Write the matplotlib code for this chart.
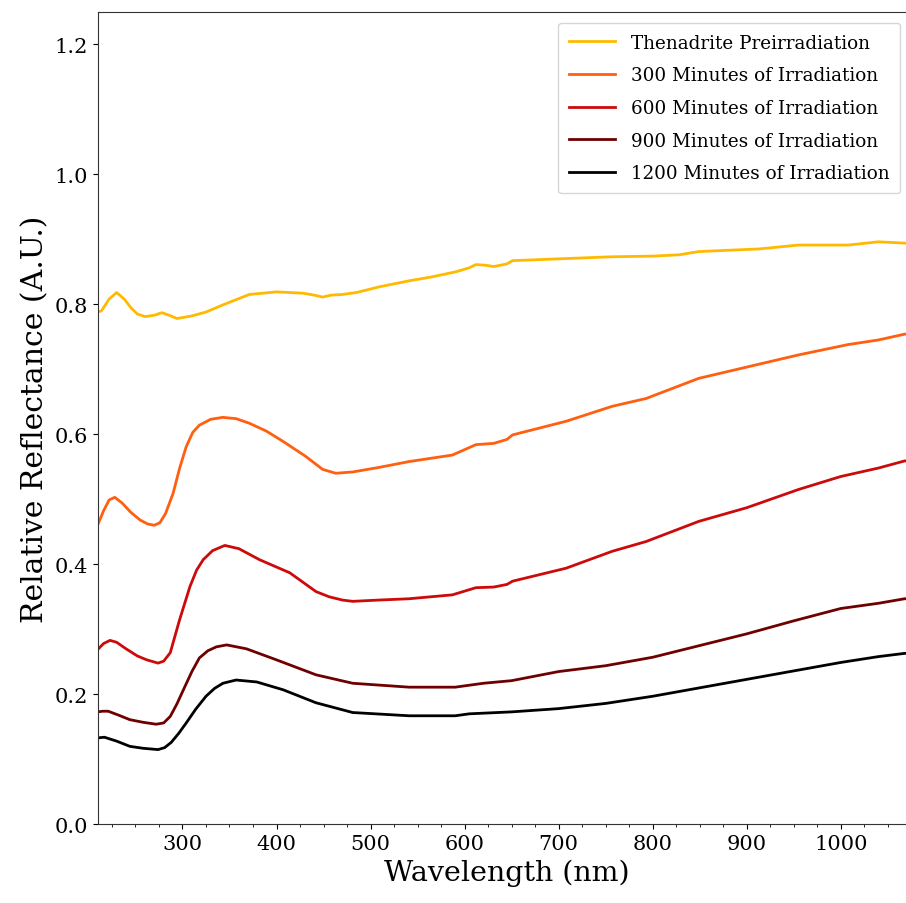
import matplotlib.pyplot as plt
import numpy as np

plt.rcParams['font.family'] = ['DejaVu Serif']

# reflectance spectra (wavelength in nm)
wl_pre = [210, 214, 222, 230, 238, 245, 252, 260, 270, 278, 286, 294, 310, 325, 343, 371, 400, 428,
          440, 449, 458, 470, 485, 510, 541, 565, 591, 605, 612, 622, 631, 645, 651,
          686, 757, 800, 828, 849, 880, 913, 955, 1008, 1040, 1068, 1080]
refl_pre = [0.788, 0.790, 0.808, 0.818, 0.808, 0.795, 0.785, 0.781, 0.783, 0.787, 0.783, 0.778, 0.782, 0.788, 0.799, 0.815, 0.819, 0.817,
            0.814, 0.811, 0.814, 0.815, 0.818, 0.827, 0.836, 0.842, 0.850, 0.856, 0.861, 0.860, 0.858, 0.862, 0.867,
            0.869, 0.873, 0.874, 0.876, 0.881, 0.883, 0.885, 0.891, 0.891, 0.896, 0.894, 0.893]

wl_300 = [210, 216, 222, 228, 236, 245, 255, 263, 270, 276, 282, 290, 297, 304, 311, 318, 330, 343,
          357, 371, 389, 407, 431, 449, 463, 481, 509, 541, 587, 612, 631, 645, 651,
          708, 757, 793, 849, 902, 955, 1008, 1040, 1068, 1080]
refl_300 = [0.461, 0.482, 0.499, 0.503, 0.494, 0.480, 0.468, 0.462, 0.460, 0.464, 0.478, 0.509, 0.548, 0.581, 0.603, 0.614, 0.623, 0.626,
            0.624, 0.617, 0.605, 0.589, 0.566, 0.546, 0.540, 0.542, 0.549, 0.558, 0.568, 0.584, 0.586, 0.592, 0.599,
            0.620, 0.643, 0.655, 0.686, 0.704, 0.722, 0.738, 0.745, 0.754, 0.754]

wl_600 = [210, 216, 223, 230, 240, 252, 262, 274, 280, 287, 297, 308, 315, 322, 332, 345, 360, 382, 414,
          442, 456, 470, 481, 509, 541, 587, 612, 631, 645, 651, 708, 757, 793, 849, 900,
          955, 1000, 1040, 1068, 1080]
refl_600 = [0.269, 0.278, 0.283, 0.280, 0.270, 0.259, 0.253, 0.248, 0.251, 0.264, 0.315, 0.366, 0.391, 0.407, 0.421, 0.429, 0.424, 0.407, 0.387,
            0.358, 0.350, 0.345, 0.343, 0.345, 0.347, 0.353, 0.364, 0.365, 0.369, 0.374, 0.394, 0.420, 0.435, 0.466, 0.487,
            0.515, 0.535, 0.548, 0.559, 0.559]

wl_900 = [210, 215, 221, 232, 244, 258, 272, 280, 287, 294, 301, 310, 318, 327, 336, 347, 368, 400, 442, 481,
          541, 590, 605, 620, 650, 700, 750, 800, 850, 900, 950, 1000, 1040, 1068, 1080]
refl_900 = [0.173, 0.174, 0.174, 0.168, 0.161, 0.157, 0.154, 0.156, 0.166, 0.185, 0.207, 0.235, 0.256, 0.267, 0.273, 0.276, 0.270, 0.253, 0.230, 0.217,
            0.211, 0.211, 0.214, 0.217, 0.221, 0.235, 0.244, 0.257, 0.275, 0.293, 0.313, 0.332, 0.340, 0.347, 0.347]

wl_1200 = [210, 217, 230, 244, 258, 274, 281, 288, 296, 304, 314, 325, 334, 343, 357, 379, 407, 442, 481,
           541, 590, 605, 620, 650, 700, 750, 800, 850, 900, 950, 1000, 1040, 1068, 1080]
refl_1200 = [0.133, 0.134, 0.128, 0.120, 0.117, 0.115, 0.118, 0.126, 0.140, 0.156, 0.177, 0.197, 0.209, 0.217, 0.222, 0.219, 0.207, 0.187, 0.172,
             0.167, 0.167, 0.170, 0.171, 0.173, 0.178, 0.186, 0.197, 0.210, 0.223, 0.236, 0.249, 0.258, 0.263, 0.263]

labels = ['Thenadrite Preirradiation', '300 Minutes of Irradiation', '600 Minutes of Irradiation',
          '900 Minutes of Irradiation', '1200 Minutes of Irradiation']
colors = ['#FFBA00', '#FF5F0F', '#CC0A0A', '#6E0000', '#000000']

fig = plt.figure(figsize=(9.06, 9.04), dpi=100)
# axes runs a little past the right edge of the figure, as in the cropped reference
ax = fig.add_axes([0.108, 0.087, 0.903, 0.899])

series = [(wl_pre, refl_pre), (wl_300, refl_300), (wl_600, refl_600), (wl_900, refl_900), (wl_1200, refl_1200)]
for (wl, refl), lab, c in zip(series, labels, colors):
    ax.plot(wl, refl, color=c, lw=2, label=lab)

ax.set_xlim(210, 1080)
ax.set_ylim(0, 1.25)
ax.set_xticks(np.arange(300, 1001, 100))
ax.set_xticks(np.arange(225, 1080, 25), minor=True)
ax.set_yticks(np.arange(0, 1.21, 0.2))
ax.tick_params(labelsize=15)
for s in ax.spines.values():
    s.set_color('#333333')

ax.set_xlabel('Wavelength (nm)', fontsize=20.5)
ax.set_ylabel('Relative Reflectance (A.U.)', fontsize=21.5)
ax.legend(loc='upper right', bbox_to_anchor=(0.981, 0.9865), borderaxespad=0,
          fontsize=13.2, labelspacing=0.8, handlelength=2.5, handletextpad=0.85, borderpad=0.6)

fig.savefig('out.png', dpi=100)
